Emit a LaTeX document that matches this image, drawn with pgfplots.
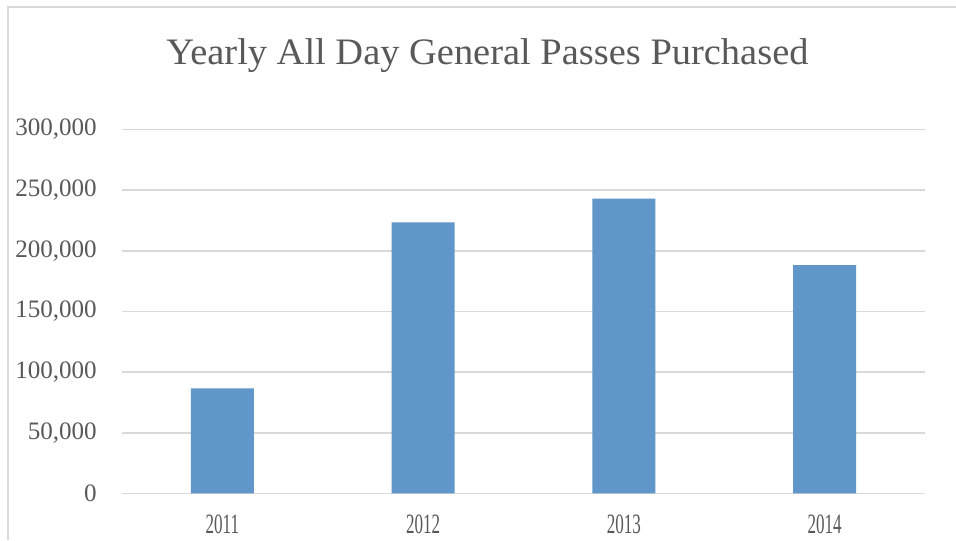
\documentclass[border=0pt]{standalone}
\usepackage{fontspec}
\setmainfont{Liberation Serif}
\usepackage{graphicx}
\usepackage{pgfplots}
\pgfplotsset{compat=1.18}
\definecolor{barblue}{RGB}{96,150,201}
\definecolor{txtgray}{RGB}{89,89,89}
\definecolor{gridgray}{RGB}{217,217,217}
\begin{document}
\begin{tikzpicture}
\path[use as bounding box, fill=white] (0,0) rectangle (717pt,405pt);
\draw[gridgray, line width=0.9pt] (6pt,0) -- (6pt,399.75pt) -- (717pt,399.75pt);
\node[anchor=base, text=txtgray, inner sep=0pt] at (365.6pt,356.25pt)
  {\fontsize{28}{32}\selectfont\scalebox{1.03}[1]{Yearly All Day General Passes Purchased}};
\begin{axis}[
  at={(91.5pt,34.9pt)}, anchor=south west,
  scale only axis, width=602.25pt, height=273pt,
  xmin=-0.5, xmax=3.5, ymin=0, ymax=300000,
  xtick={0,1,2,3},
  xticklabels={\scalebox{0.61}[1]{2011},\scalebox{0.61}[1]{2012},\scalebox{0.61}[1]{2013},\scalebox{0.61}[1]{2014}},
  ytick={0,50000,100000,150000,200000,250000,300000},
  scaled y ticks=false,
  /pgf/number format/.cd, fixed, 1000 sep={,}, assume math mode=true,
  /pgfplots/.cd,
  ymajorgrids, grid style={gridgray, line width=1.2pt},
  axis line style={draw=none},
  major tick length=0pt,
  yticklabel style={font=\fontsize{18.8}{20}\selectfont, text=txtgray, inner sep=0pt, anchor=east, xshift=-18.75pt},
  xticklabel style={font=\fontsize{21}{23}\selectfont, text=txtgray, inner sep=0pt, anchor=north, yshift=-15.5pt},
  ybar, bar width=47.25pt,
]
\addplot[fill=barblue, draw=none] coordinates {(0,86700) (1,223500) (2,243000) (3,188100)};
\end{axis}
\end{tikzpicture}
\end{document}
